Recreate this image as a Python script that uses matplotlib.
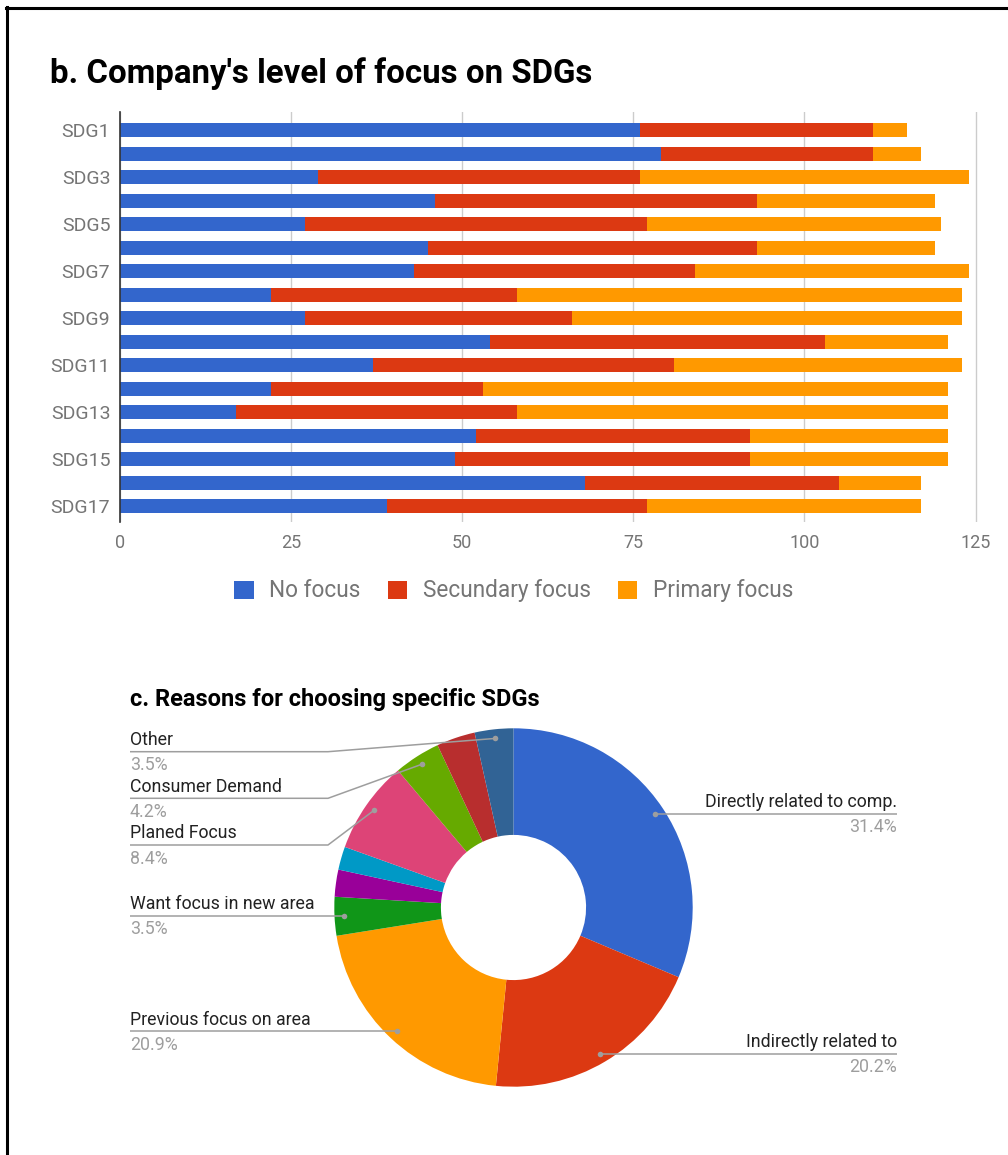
import matplotlib
matplotlib.use('Agg')
import math
import matplotlib.pyplot as plt
from matplotlib.lines import Line2D
from matplotlib.patches import Patch

plt.rcParams['font.family'] = ['Roboto', 'DejaVu Sans']

# b. focus level per SDG (number of companies)
sdgs = ['SDG%d' % i for i in range(1, 18)]
no_focus = [76, 79, 29, 46, 27, 45, 43, 22, 27, 54, 37, 22, 17, 52, 49, 68, 39]
secundary_focus = [34, 31, 47, 47, 50, 48, 41, 36, 39, 49, 44, 31, 41, 40, 43, 37, 38]
primary_focus = [5, 7, 48, 26, 43, 26, 40, 65, 57, 18, 42, 68, 63, 29, 29, 12, 40]
focus_names = ['No focus', 'Secundary focus', 'Primary focus']
focus_colors = ['#3366cc', '#dc3912', '#ff9900']

# c. reasons for choosing SDGs (slices without a name get no label)
reasons = ['Directly related to comp.', 'Indirectly related to', 'Previous focus on area',
           'Want focus in new area', '', '', 'Planed Focus', 'Consumer Demand', '', 'Other']
reason_counts = [90, 58, 60, 10, 7, 6, 24, 12, 10, 10]
reason_colors = ['#3366cc', '#dc3912', '#ff9900', '#109618', '#990099',
                 '#0099c6', '#dd4477', '#66aa00', '#b82e2e', '#316395']
# y (px from top) of the label underline, None = at the slice's dot
label_line_y = [None, None, None, None, None, None, 845, 798.3, None, 751.7]

W, H = 1008, 1155
fig = plt.figure(figsize=(W / 100, H / 100), dpi=100)

# --- donut, drawn in a full-figure axes measured in pixels ---
pax = fig.add_axes([0, 0, 1, 1])
R = 179.2
cx, cy = 513.5, H - 907.5
wedges, _ = pax.pie(reason_counts, colors=reason_colors, startangle=90, counterclock=False,
                    radius=R, center=(cx, cy),
                    wedgeprops=dict(width=R * 0.595, edgecolor='none'))
pax.set_xlim(0, W)
pax.set_ylim(0, H)
pax.set_aspect('auto')
pax.axis('off')
pax.patch.set_visible(False)

total = sum(reason_counts)
line_col = '#9e9e9e'
for wedge, name, count, ly in zip(wedges, reasons, reason_counts, label_line_y):
    if not name:
        continue
    mid = math.radians((wedge.theta1 + wedge.theta2) / 2)
    dx = cx + 0.949 * R * math.cos(mid)
    dy = cy + 0.949 * R * math.sin(mid)
    pct = '%.1f%%' % (100 * count / total)
    yline = dy if ly is None else H - ly
    if dx < cx:
        xs, ys = [130, 328, dx], [yline, yline, dy]
        if ly is None:
            xs, ys = [130, dx], [yline, dy]
        tx, ha = 130, 'left'
    else:
        xs, ys = [dx, 897], [dy, yline]
        tx, ha = 897, 'right'
    pax.plot(xs, ys, color=line_col, lw=1.1, solid_capstyle='butt')
    pax.plot([dx], [dy], 'o', color=line_col, ms=4, mec='none')
    pax.text(tx, yline + 6.5, name, ha=ha, va='baseline', fontsize=12.8, color='#222222')
    pax.text(tx, yline - 18.5, pct, ha=ha, va='baseline', fontsize=12.8, color='#9e9e9e')

# --- stacked horizontal bars ---
ax = fig.add_axes([120 / W, (H - 522) / H, 859 / W, 410 / H])
ypos = list(range(len(sdgs)))
left = [0] * len(sdgs)
for vals, name, col in zip([no_focus, secundary_focus, primary_focus], focus_names, focus_colors):
    ax.barh(ypos, vals, left=left, height=0.6, color=col, label=name, zorder=2)
    left = [a + b for a, b in zip(left, vals)]

ax.set_xlim(0, 125.5)
ax.set_ylim(16.68, -0.78)
ax.set_xticks([0, 25, 50, 75, 100, 125])
ax.set_yticks(ypos[::2])
ax.set_yticklabels(sdgs[::2])
ax.tick_params(length=0, labelsize=13, colors='#757575')
ax.tick_params(axis='y', labelsize=14, pad=7)
ax.tick_params(axis='x', pad=9)
ax.grid(axis='x', color='#cccccc', lw=1, zorder=0)
ax.set_axisbelow(True)
for s in ['top', 'right', 'bottom']:
    ax.spines[s].set_visible(False)
ax.spines['left'].set_color('#333333')
ax.spines['left'].set_linewidth(1.2)
ax.spines['left'].set_zorder(3)

handles = [Patch(facecolor=c, edgecolor='none') for c in focus_colors]
fig.legend(handles, focus_names, loc='center', bbox_to_anchor=(514 / W, 1 - 591 / H),
           ncol=3, frameon=False, fontsize=16.3, handlelength=0.85, handleheight=0.85,
           handletextpad=0.7, columnspacing=1.2, labelcolor='#757575')

fig.text(50 / W, 1 - 83 / H, "b. Company's level of focus on SDGs",
         fontsize=23.8, fontweight='bold', va='baseline')
fig.text(130 / W, 1 - 706 / H, 'c. Reasons for choosing specific SDGs',
         fontsize=17, fontweight='bold', va='baseline')

# frame lines along the top and left edge
fig.add_artist(Line2D([6 / W, 1], [1 - 7.5 / H] * 2, transform=fig.transFigure,
                      color='black', lw=2.2))
fig.add_artist(Line2D([6.5 / W] * 2, [0, 1 - 6.5 / H], transform=fig.transFigure,
                      color='black', lw=2.2))

fig.savefig('out.png', dpi=100)
